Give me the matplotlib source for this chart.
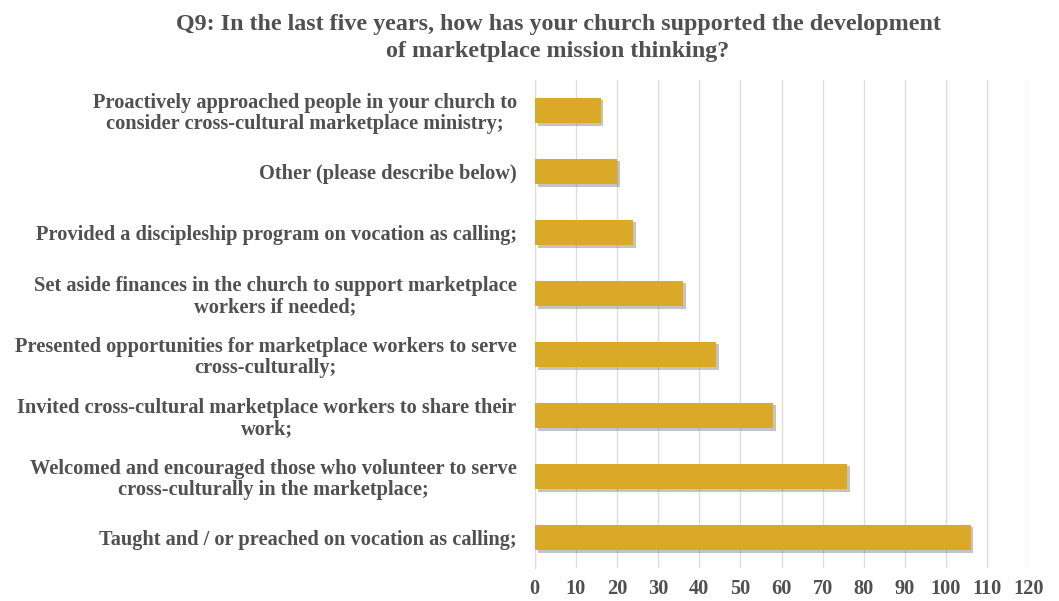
import matplotlib
matplotlib.use("Agg")
import matplotlib.pyplot as plt
import matplotlib.patheffects as pe

# categories listed bottom to top
categories = [
    "Taught and / or preached on vocation as calling;",
    "Welcomed and encouraged those who volunteer to serve\ncross-culturally in the marketplace;",
    "Invited cross-cultural marketplace workers to share their\nwork;",
    "Presented opportunities for marketplace workers to serve\ncross-culturally;",
    "Set aside finances in the church to support marketplace\nworkers if needed;",
    "Provided a discipleship program on vocation as calling;",
    "Other (please describe below)",
    "Proactively approached people in your church to\nconsider cross-cultural marketplace ministry;",
]
counts = [106, 76, 58, 44, 36, 24, 20, 16]
xticks = list(range(0, 121, 10))

title = ("Q9: In the last five years, how has your church supported the development\n"
         "of marketplace mission thinking?")

text_color = "#505050"
bar_color = "#D9A927"
plt.rcParams["font.family"] = ["Liberation Serif", "DejaVu Serif"]
plt.rcParams["font.weight"] = "bold"

fig = plt.figure(figsize=(10.59, 6.01), dpi=100)
ax = fig.add_axes([0.505, 0.055, 0.466, 0.812])

ypos = list(range(len(categories)))
bars = ax.barh(ypos, counts, height=0.42, color=bar_color, zorder=3)
for b in bars:
    b.set_path_effects([pe.SimplePatchShadow(offset=(2, -2), shadow_rgbFace="#8a8a8a", alpha=0.5),
                        pe.Normal()])

ax.set_xlim(0, 120)
ax.set_ylim(-0.5, len(categories) - 0.5)
ax.set_xticks(xticks)
ax.set_yticks(ypos)
ax.set_yticklabels(categories, multialignment="center", linespacing=1.05)
ax.tick_params(axis="both", length=0, colors=text_color, labelsize=14.7)
ax.tick_params(axis="y", pad=13)
ax.tick_params(axis="x", pad=8)
ax.xaxis.grid(True, color="#dcdcdc", linewidth=1, zorder=0)
for s in ["top", "right", "bottom"]:
    ax.spines[s].set_visible(False)
ax.spines["left"].set_color("#dcdcdc")

fig.text(0.527, 0.976, title, ha="center", va="top", fontsize=17.3,
         color=text_color, fontweight="bold", multialignment="center", linespacing=1.34)

fig.savefig("out.png", dpi=100)
